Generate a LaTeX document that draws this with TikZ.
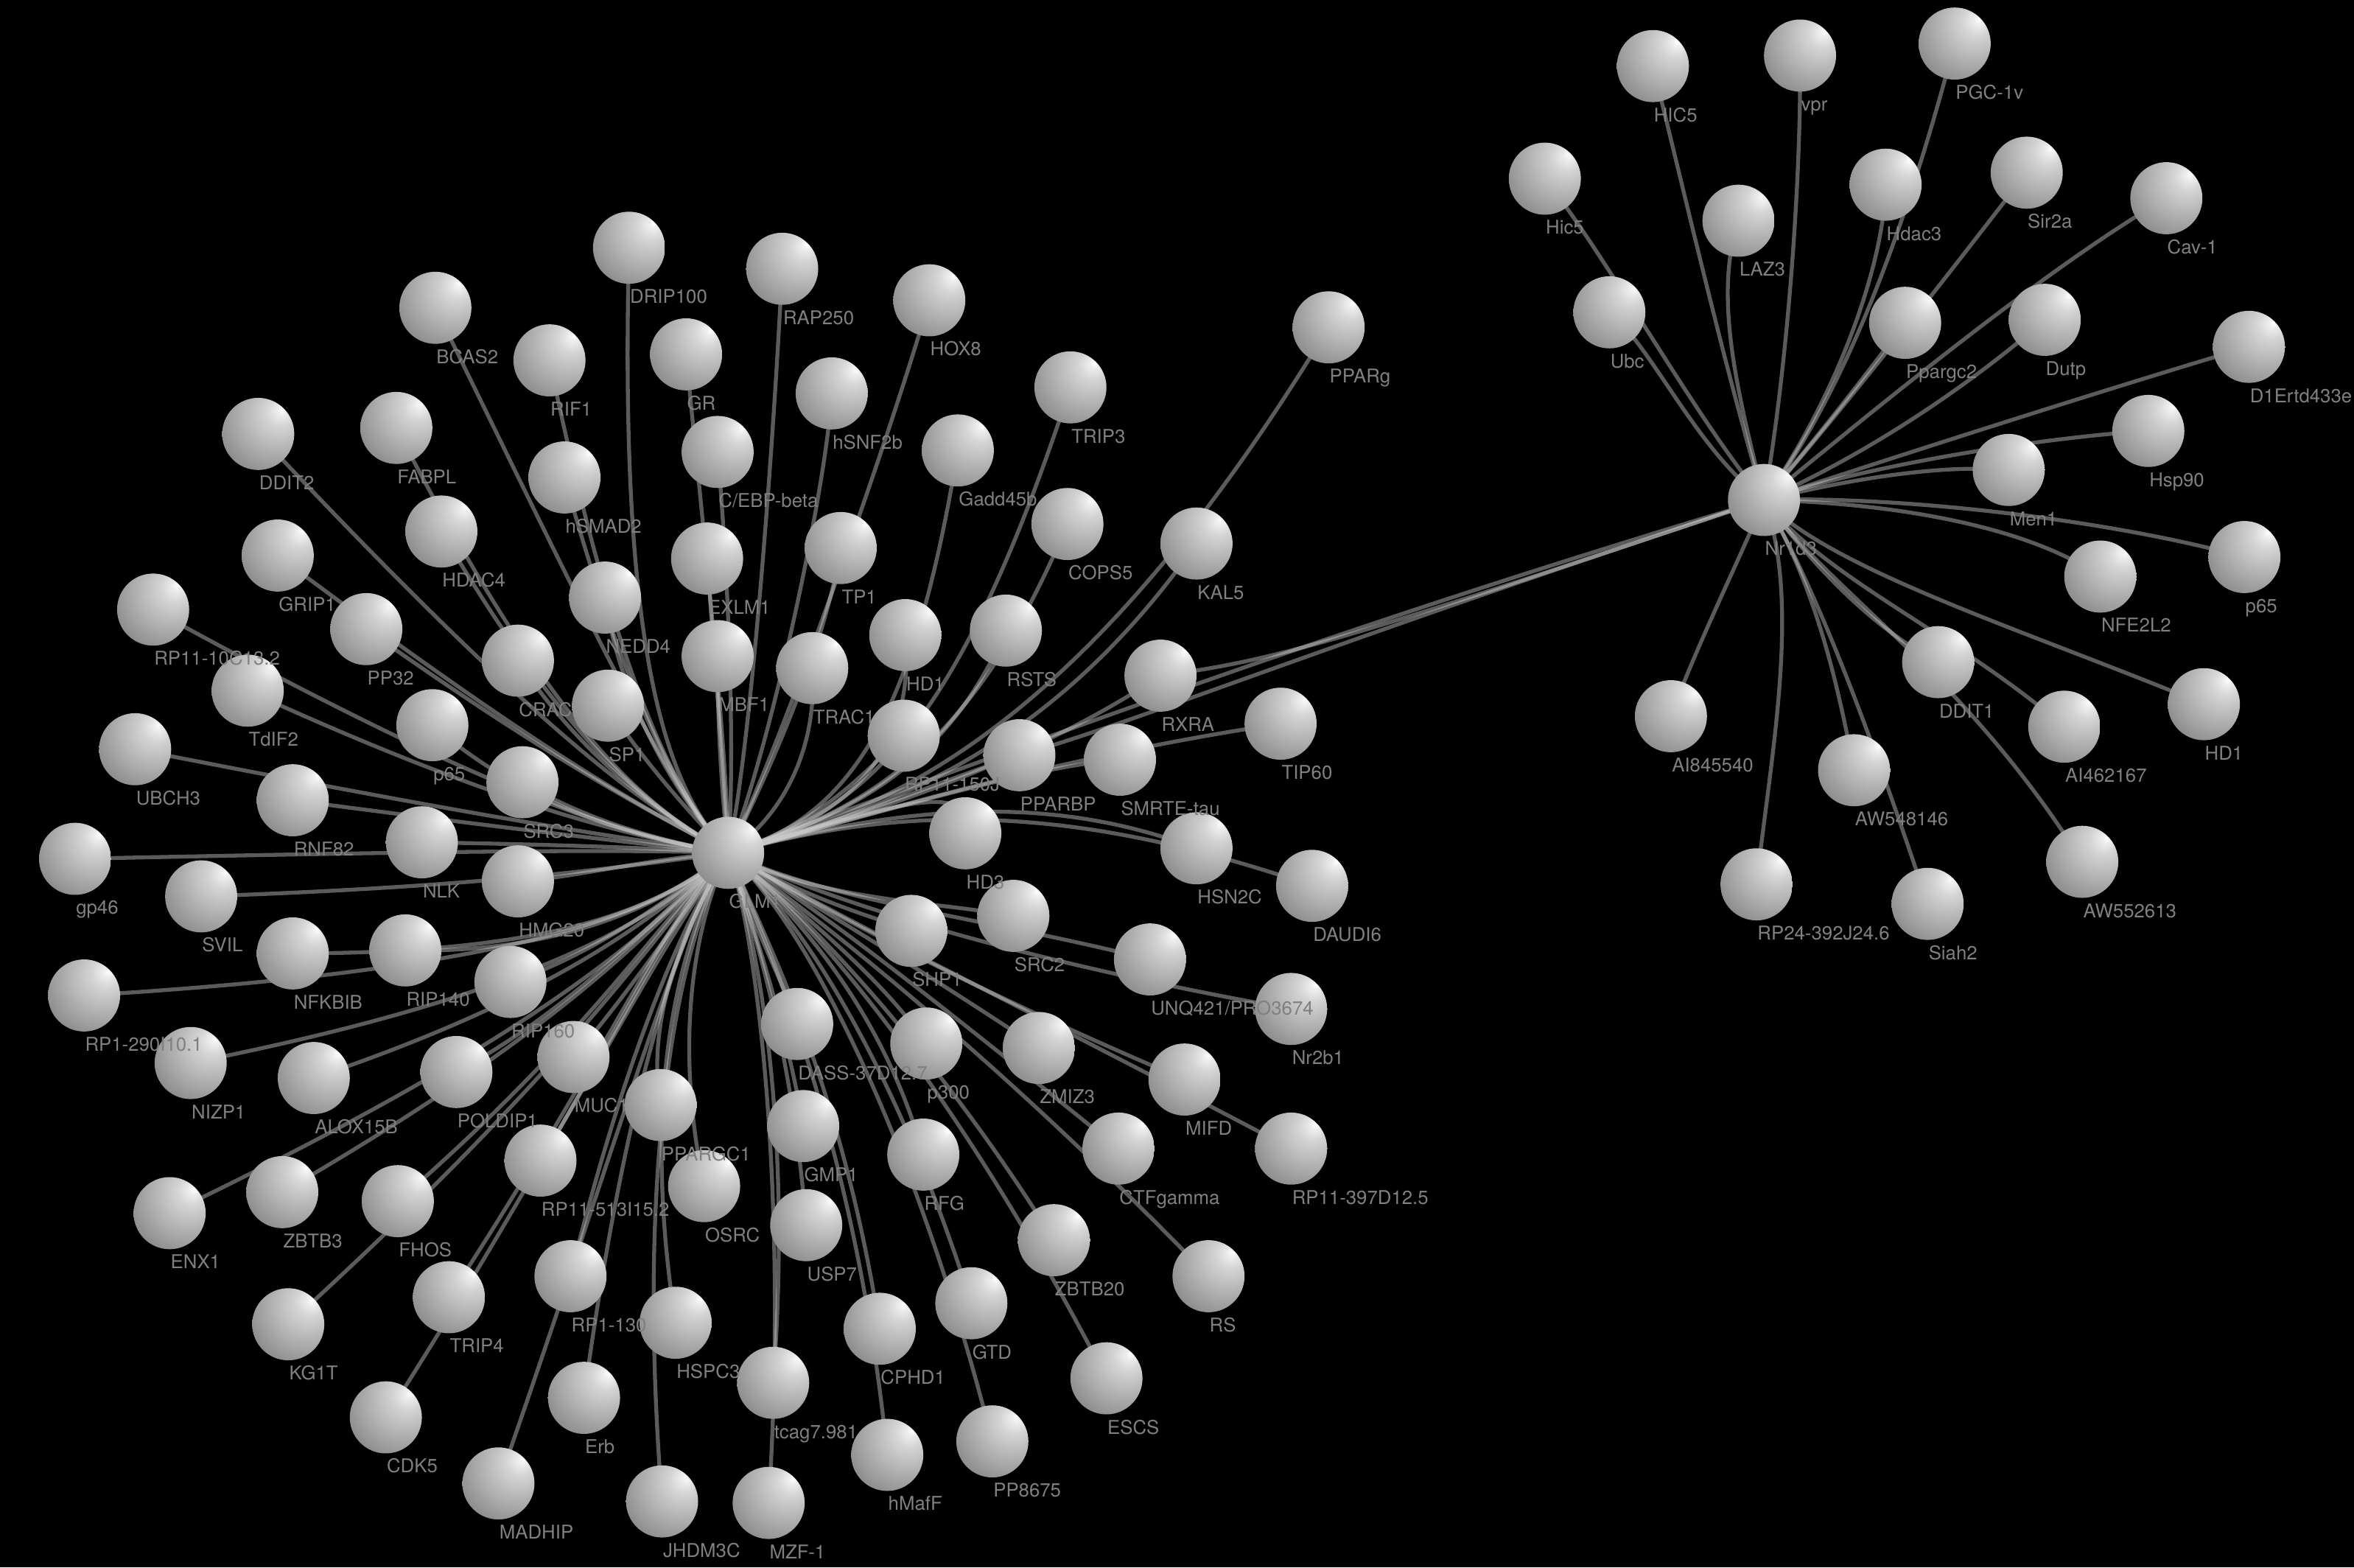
\documentclass[tikz,border=0pt]{standalone}
\usepackage{fontspec}
\setmainfont{TeX Gyre Heros}
\pgfdeclarelayer{bg}
\pgfdeclarelayer{edges}
\pgfsetlayers{bg,edges,main}
\definecolor{lblc}{HTML}{808080}
\definecolor{edgec}{HTML}{CACACA}
\definecolor{sa}{HTML}{EEEEEE}
\definecolor{sb}{HTML}{D4D4D4}
\definecolor{sc}{HTML}{BCBCBC}
\definecolor{sd}{HTML}{A4A4A4}
\definecolor{se}{HTML}{8C8C8C}
\definecolor{sf}{HTML}{747474}
\definecolor{sg}{HTML}{626262}
\definecolor{sh}{HTML}{404040}
\pgfdeclareradialshading{sphere}{\pgfpoint{17bp}{17bp}}{color(0bp)=(white); color(3bp)=(sa); color(10bp)=(sb); color(20bp)=(sc); color(30bp)=(sd); color(40bp)=(se); color(50bp)=(sf); color(60bp)=(sg); color(100bp)=(sh)}
\tikzset{
  sph/.style={circle, minimum size=0.48cm, inner sep=0pt, shading=sphere},
  lbl/.style={font=\fontsize{3.6pt}{4pt}\selectfont, text=lblc, inner sep=0pt, anchor=base west},
  lnk/.style={draw=edgec, draw opacity=0.45, line width=0.026cm, line cap=round}
}
\def\leftnodes{DRIP/419/165/DRIP100, RAP/521/179/RAP250, HOX/619/200/HOX8, BCAS/290/205/BCAS2, RIF/366/240/RIF1, GR/457/236/GR, SNF/554/262/hSNF2b, TRIP3/713/258/TRIP3, PPARg/885/218/PPARg, DDIT2/172/289/DDIT2, FABPL/264/285/FABPL, CEBP/478/301/{C/EBP-beta}, GADD/638/300/Gadd45b, SMAD/376/318/hSMAD2, HDAC4/294/354/HDAC4, COPS/711/349/COPS5, GRIP/185/370/GRIP1, EXLM/471/372/EXLM1, TP/560/365/TP1, KAL/797/362/KAL5, NEDD/403/398/NEDD4, RPtenC/102/406/RP11-10C13.2, PPtt/244/419/PP32, CRAC/345/440/CRAC, MBF/478/437/MBF1, HDone/603/423/HD1, RSTS/670/420/RSTS, TRAC/541/445/TRAC1, RXRA/773/450/RXRA, TDIF/165/460/TdIF2, SPone/405/470/SP1, psf/288/483/p65, UBCH/90/499/UBCH3, Rofj/602/490/RP11-150J, PPARBP/679/503/PPARBP, SMRTE/746/506/SMRTE-tau, TIP/853/482/TIP60, SRCt/348/521/SRC3, RNF/195/533/RNF82, HDt/643/555/HD3, HSN/797/565/HSN2C, GLM/485/568/GLM1, NLK/281/561/NLK, gpfs/50/572/gp46, HMG/345/587/HMG20, DAUDI/874/590/DAUDI6, SVIL/134/597/SVIL, SRCtw/675/610/SRC2, SHP/607/620/SHP1, NFKB/195/635/NFKBIB, RIPff/270/633/RIP140, UNQ/766/639/{UNQ421/PRO3674}, RIPsx/340/654/RIP160, Rtn/56/663/RP1-290I10.1, Nrtb/860/672/Nr2b1, DASS/531/682/DASS-37D12.7, MUC/382/704/MUC1, pthr/617/695/p300, ZMIZ/692/698/ZMIZ3, NIZP/127/708/NIZP1, ALOX/209/718/ALOX15B, POLD/304/714/POLDIP1, PGCone/440/736/PPARGC1, MIFD/789/719/MIFD, GMP/535/750/GMP1, Rtns/860/765/RP11-397D12.5, CTF/745/765/CTFgamma, RFG/615/769/RFG, Rfot/360/773/RP11-513I15.2, ZBTBt/188/794/ZBTB3, FHOS/265/800/FHOS, OSRC/469/790/OSRC, ENX/113/808/ENX1, USP/537/816/USP7, ZBTBtw/702/826/ZBTB20, RS/805/850/RS, Rotr/380/850/RP1-130, TRIPf/299/864/TRIP4, KGT/192/882/KG1T, HSPC/450/881/HSPC3, GTD/647/868/GTD, CPHD/586/885/CPHD1, ESCS/737/918/ESCS, TCAG/515/921/tcag7.981, Erb/389/931/Erb, CDK/257/944/CDK5, PPes/661/960/PP8675, MAFF/591/969/hMafF, MADHIP/332/988/MADHIP, JHDM/441/1000/JHDM3C, MZF/512/1001/MZF-1}
\def\rightnodes{rHICv/1101/44/HIC5, vpr/1199/37/vpr, PGCv/1302/29/PGC-1v, rHicv/1029/119/Hic5, Hdac/1256/123/Hdac3, Sir/1350/115/Sir2a, LAZ/1158/147/LAZ3, Cav/1443/132/Cav-1, Ubc/1072/208/Ubc, Ppargc/1269/215/Ppargc2, Dutp/1362/213/Dutp, DoneE/1498/231/D1Ertd433e, Hsp/1431/287/Hsp90, Men/1338/313/Men1, Nrd/1175/333/Nr1d3, NFE/1399/384/NFE2L2, rpsf/1495/371/p65, DDITone/1291/441/DDIT1, rHD/1468/469/HD1, AIe/1113/477/AI845540, AIf/1375/484/AI462167, AWf/1235/513/AW548146, AWs/1387/574/AW552613, RPtf/1170/589/RP24-392J24.6, Siah/1284/602/Siah2}
\begin{document}
\begin{tikzpicture}[x=0.01cm,y=-0.01cm]
\useasboundingbox (0,0) rectangle (1568,1044);
\begin{pgfonlayer}{bg}
\fill[black] (0,0) rectangle (1568,1044);
\end{pgfonlayer}
% spheres
\foreach \id/\x/\y/\t in \leftnodes {\node[sph] (\id) at (\x,\y) {};}
\foreach \id/\x/\y/\t in \rightnodes {\node[sph] (\id) at (\x,\y) {};}
% labels
\foreach \id/\x/\y/\t in \leftnodes {\node[lbl] (\id-l) at ([yshift=-0.37cm]\id.center) {\t};}
\foreach \id/\x/\y/\t in \rightnodes {\node[lbl] (\id-l) at ([yshift=-0.37cm]\id.center) {\t};}
% edges
\begin{pgfonlayer}{edges}
\foreach \id/\ax/\ay/\bx/\by in {
 TIP/590/540/700/505, RXRA/590/540/690/505, KAL/590/540/700/500, PPARg/590/540/720/490,
 SMRTE/590/540/690/510, PPARBP/580/542/640/515, Rofj/545/550/575/515, RSTS/580/540/635/500,
 COPS/580/540/650/495, HDone/570/545/610/495, TRIP3/580/540/640/480, GADD/570/545/610/470,
 HSN/590/540/690/525, DAUDI/590/540/700/530, HDt/585/540/650/515,
 MBF/480/520/478/480, TRAC/520/545/545/500, EXLM/482/510/475/430, TP/510/520/550/430,
 CEBP/490/500/485/380, GR/485/500/465/320, RAP/500/500/515/300, SNF/510/510/550/330, HOX/515/510/590/300,
 DRIP/445/525/412/440, SMAD/445/525/410/440, RIF/445/525/408/440, BCAS/445/525/405/440,
 NEDD/445/525/412/460, SPone/450/532/420/495, CRAC/435/540/385/500, HDAC4/435/540/380/500,
 FABPL/435/540/375/500, DDIT2/435/540/370/500, GRIP/435/542/365/505, PPtt/435/542/365/505,
 SRCt/425/558/380/540, psf/425/558/355/540, RPtenC/425/558/345/540, TDIF/425/558/340/540,
 UBCH/425/560/340/548, RNF/425/562/340/552, NLK/425/564/345/562, gpfs/425/566/330/566,
 HMG/430/572/380/585, SVIL/430/575/340/590,
 NFKB/440/605/370/635, RIPff/440/605/370/635, Rtn/440/605/360/645, RIPsx/440/605/385/640,
 NIZP/440/608/370/660, ALOX/440/608/375/662, POLD/440/608/385/670, ZBTBt/440/612/385/680,
 ENX/440/612/380/680, FHOS/440/612/392/690, KGT/440/615/392/700, TRIPf/440/615/400/710,
 CDK/440/615/400/720, MUC/448/618/412/670, Rfot/448/618/410/690, Rotr/450/620/412/720,
 Erb/450/620/415/740, MADHIP/450/620/412/760, JHDM/455/622/422/760, HSPC/455/622/425/720,
 PGCone/455/618/430/680, OSRC/460/620/450/700,
 DASS/505/625/520/650, GMP/505/625/525/690, USP/505/625/528/705, TCAG/505/625/528/750,
 MZF/505/625/525/800, CPHD/510/625/560/720, MAFF/510/625/570/760,
 SHP/540/600/580/610, SRCtw/545/600/620/600, UNQ/550/600/650/610, Nrtb/550/600/680/640,
 ZMIZ/548/606/620/650, MIFD/548/606/650/660, Rtns/548/606/680/670, CTF/548/606/640/680,
 pthr/540/612/590/655, RFG/538/615/590/680, GTD/538/615/600/720, PPes/538/615/610/760,
 ZBTBtw/542/612/630/710, ESCS/542/612/640/730, RS/545/612/660/700}
 {\draw[lnk] (GLM.center) .. controls (\ax,\ay) and (\bx,\by) .. (\id.center);}
\foreach \id/\ax/\ay/\bx/\by in {
 rHICv/1150/250/1120/120, vpr/1190/250/1200/120, PGCv/1230/260/1270/150, rHicv/1130/280/1070/170,
 Hdac/1220/270/1255/180, Sir/1230/270/1300/180, LAZ/1160/270/1140/200, Cav/1240/280/1360/180,
 Ubc/1130/300/1100/230, Ppargc/1220/280/1250/240, Dutp/1250/300/1320/250, DoneE/1260/305/1400/260,
 Hsp/1260/305/1380/290, Men/1250/315/1300/310, rpsf/1260/330/1400/345, NFE/1260/335/1350/350,
 DDITone/1210/380/1250/420, rHD/1220/380/1350/420, AIe/1160/370/1130/430, AIf/1215/385/1300/420,
 AWf/1210/390/1225/460, AWs/1215/390/1310/450, RPtf/1200/400/1180/500, Siah/1210/390/1250/500}
 {\draw[lnk] (Nrd.center) .. controls (\ax,\ay) and (\bx,\by) .. (\id.center);}
\draw[lnk] (Nrd.center) .. controls (850,430) and (650,510) .. (GLM.center);
\draw[lnk] (Nrd.center) .. controls (900,425) and (850,440) .. (RXRA.center);
\draw[lnk] (Nrd.center) .. controls (880,430) and (760,480) .. (PPARBP.center);
\end{pgfonlayer}
\end{tikzpicture}
\end{document}
